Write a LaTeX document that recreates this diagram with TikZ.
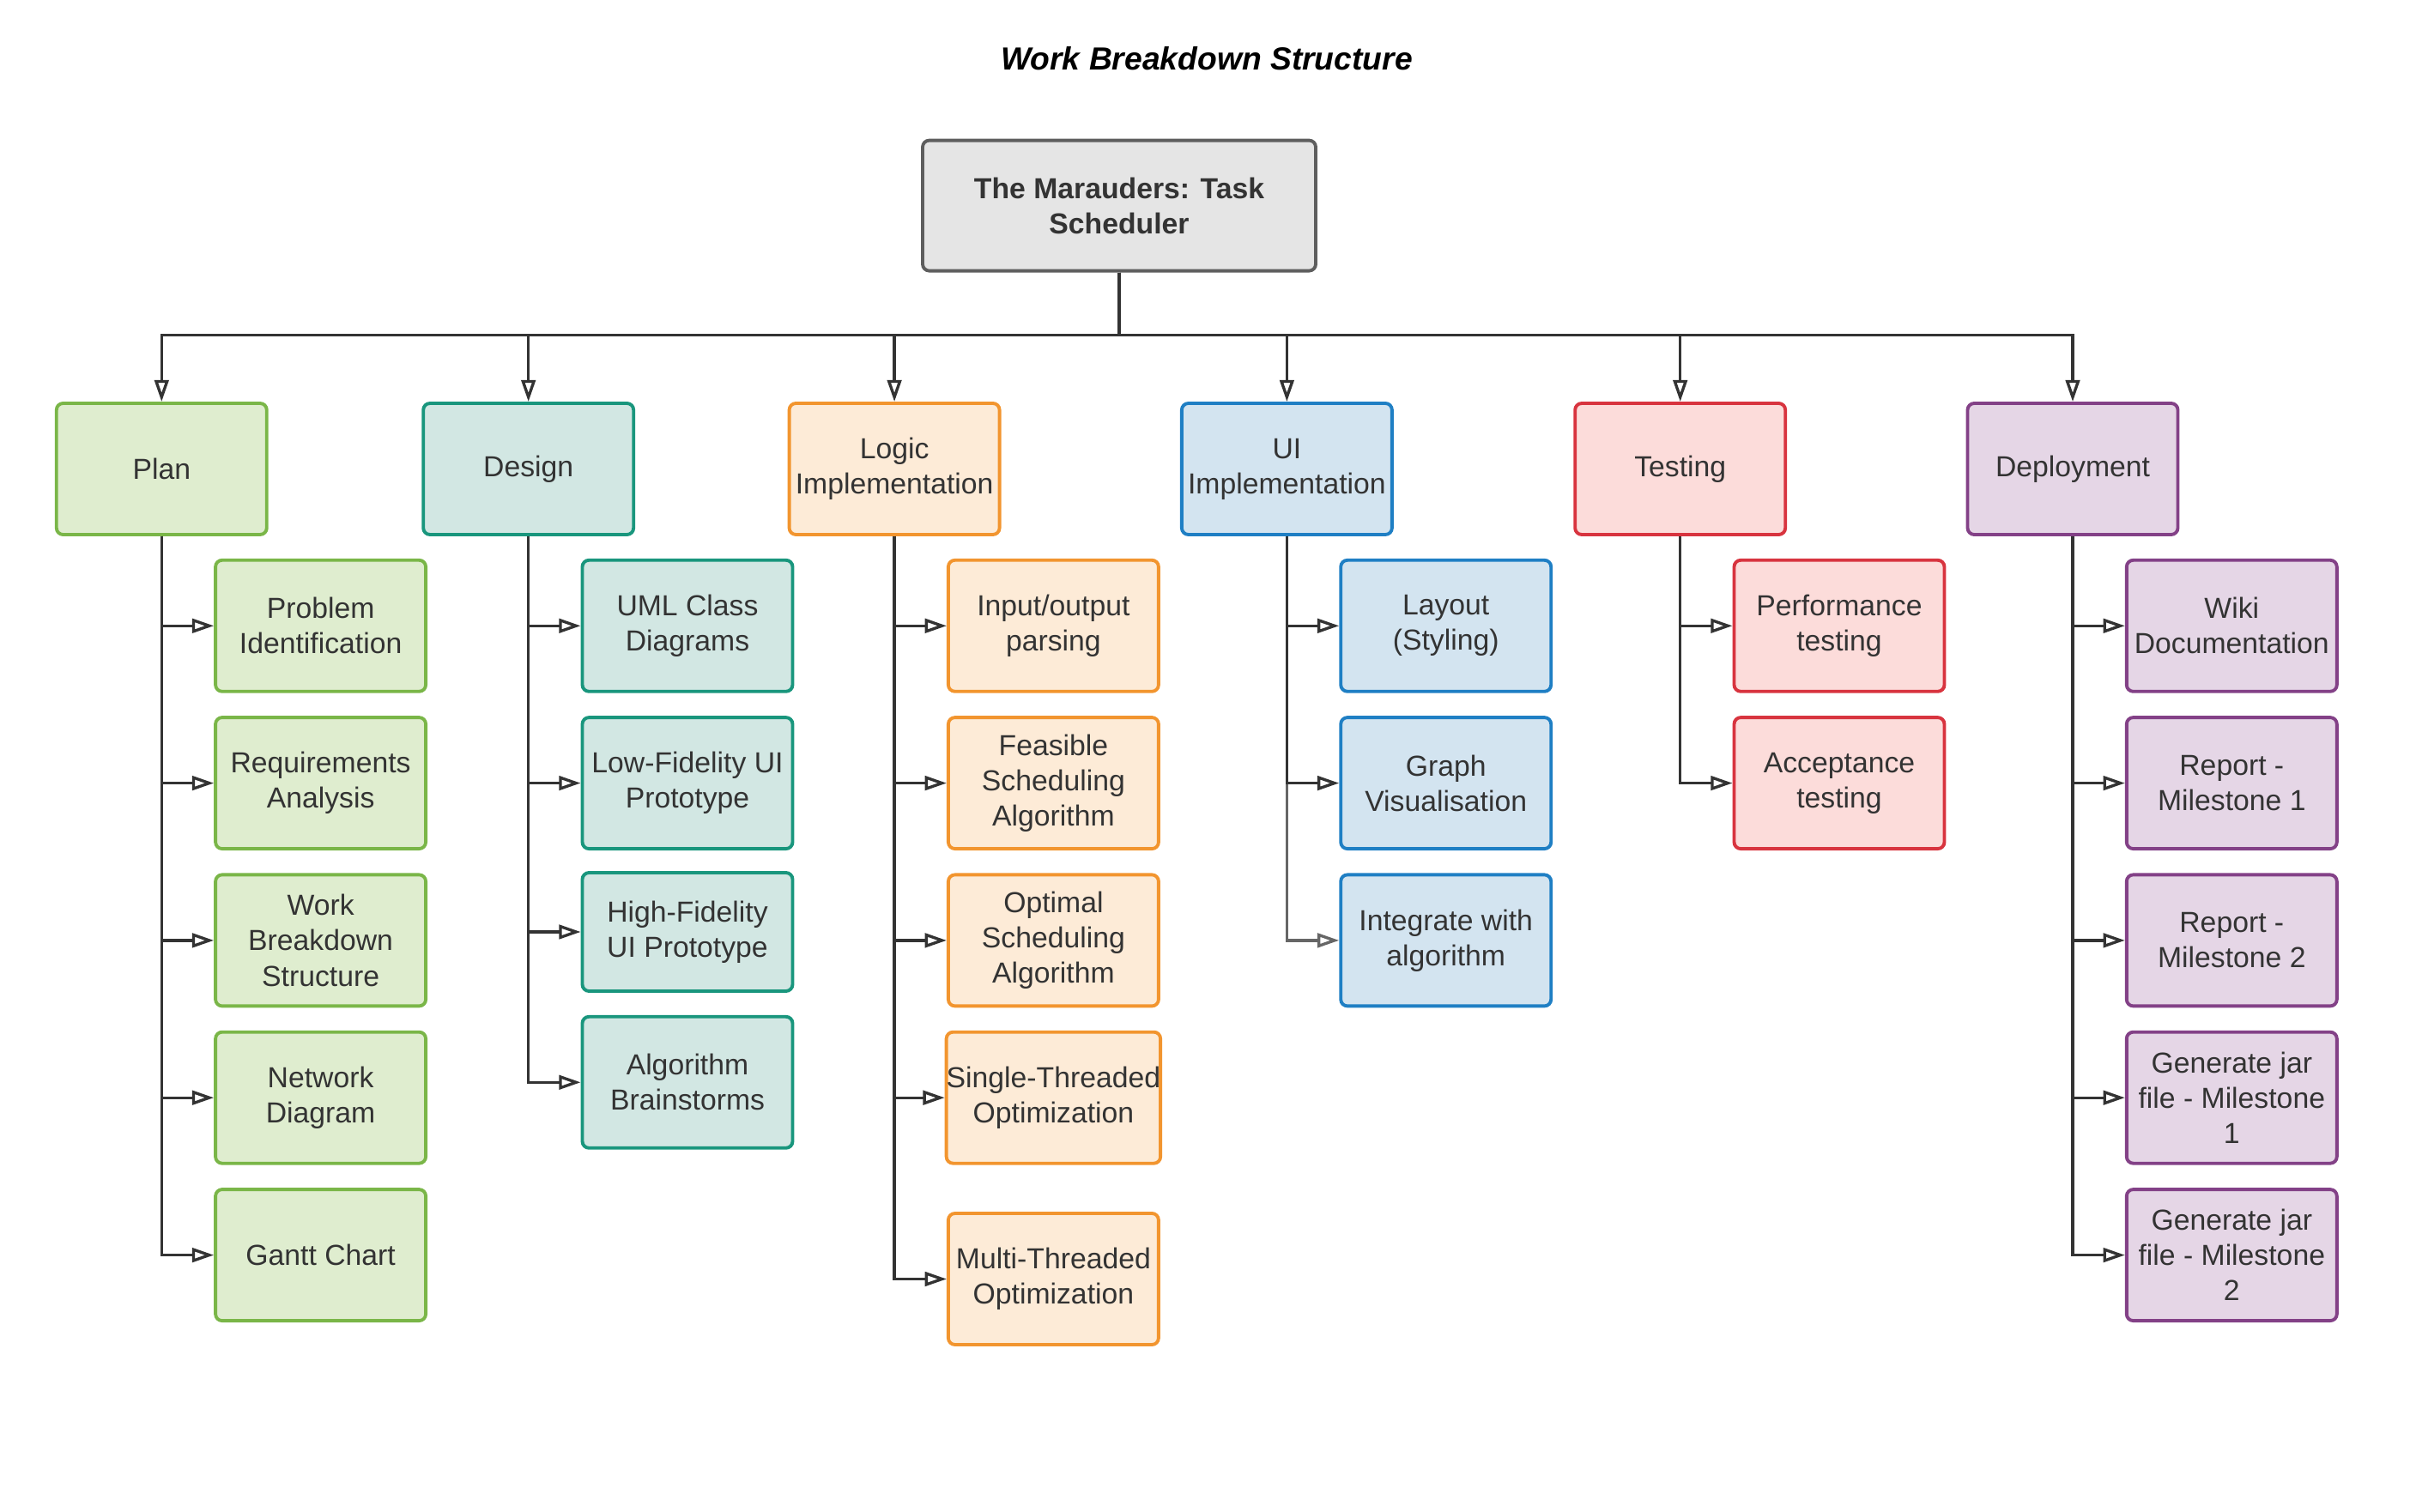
\documentclass[tikz,border=0pt]{standalone}
\usepackage{fontspec}
\setmainfont{Liberation Sans}
\usepackage{xcolor}
\usetikzlibrary{arrows.meta,positioning,calc}

\definecolor{txt}{HTML}{333333}
\definecolor{lnk}{HTML}{333333}
\definecolor{lnklight}{HTML}{666666}
\definecolor{rootfill}{HTML}{E5E5E5}
\definecolor{rootdraw}{HTML}{5E5E5E}
\definecolor{planfill}{HTML}{DFEDCF}
\definecolor{plandraw}{HTML}{7AB648}
\definecolor{designfill}{HTML}{D2E7E3}
\definecolor{designdraw}{HTML}{19967D}
\definecolor{logicfill}{HTML}{FDEBD7}
\definecolor{logicdraw}{HTML}{F2952F}
\definecolor{uifill}{HTML}{D3E4F0}
\definecolor{uidraw}{HTML}{1F7FC4}
\definecolor{testfill}{HTML}{FCDCDA}
\definecolor{testdraw}{HTML}{D8343F}
\definecolor{deployfill}{HTML}{E5D6E6}
\definecolor{deploydraw}{HTML}{834187}

\begin{document}
\begin{tikzpicture}[
    box/.style={rectangle, draw, line width=1.1pt, rounded corners=2.2pt, minimum width=2.45cm, minimum height=1.53cm, align=center, inner sep=0pt, text=txt, font=\fontsize{9.6}{11.7}\selectfont},
    rootbox/.style={box, draw=rootdraw, fill=rootfill, minimum width=4.58cm, minimum height=1.52cm, font=\fontsize{9.6}{11.7}\selectfont\bfseries},
    planbox/.style={box, draw=plandraw, fill=planfill},
    designbox/.style={box, draw=designdraw, fill=designfill},
    logicbox/.style={box, draw=logicdraw, fill=logicfill},
    uibox/.style={box, draw=uidraw, fill=uifill},
    testbox/.style={box, draw=testdraw, fill=testfill},
    deploybox/.style={box, draw=deploydraw, fill=deployfill},
    arrow/.style={-{Triangle[open, length=7.2pt, width=4.7pt]}, line width=0.95pt, draw=lnk}
]
    \useasboundingbox (0,0) rectangle (28.08,-17.62);

    % Title
    \node[font=\fontsize{10.6}{12.5}\selectfont\bfseries\itshape] (title) at (14.06,-0.68) {Work Breakdown Structure};

    % Root
    \node[rootbox] (root) at (13.04,-2.396) {The Marauders: Task\\Scheduler};
    \coordinate (bus) at (13.04,-3.905);

    % Level 1
    \node[planbox] (plan) at (1.883,-5.465) {Plan};
    \node[designbox] (design) at (6.157,-5.465) {Design};
    \node[logicbox] (logic) at (10.421,-5.465) {Logic\\Implementation};
    \node[uibox] (ui) at (14.994,-5.465) {UI\\Implementation};
    \node[testbox] (testing) at (19.577,-5.465) {Testing};
    \node[deploybox] (deploy) at (24.150,-5.465) {Deployment};

    % Plan
    \node[planbox] (plan1) at (3.736,-7.293) {Problem\\Identification};
    \node[planbox] (plan2) at (3.736,-9.126) {Requirements\\Analysis};
    \node[planbox] (plan3) at (3.736,-10.959) {Work\\Breakdown\\Structure};
    \node[planbox] (plan4) at (3.736,-12.792) {Network\\Diagram};
    \node[planbox] (plan5) at (3.736,-14.626) {Gantt Chart};

    % Design
    \node[designbox] (design1) at (8.010,-7.293) {UML Class\\Diagrams};
    \node[designbox] (design2) at (8.010,-9.126) {Low-Fidelity UI\\Prototype};
    \node[designbox, minimum height=1.38cm] (design3) at (8.010,-10.860) {High-Fidelity\\UI Prototype};
    \node[designbox] (design4) at (8.010,-12.613) {Algorithm\\Brainstorms};

    % Logic Implementation
    \node[logicbox] (logic1) at (12.274,-7.293) {Input/output\\parsing};
    \node[logicbox] (logic2) at (12.274,-9.126) {Feasible\\Scheduling\\Algorithm};
    \node[logicbox] (logic3) at (12.274,-10.959) {Optimal\\Scheduling\\Algorithm};
    \node[logicbox] (logic4) at (12.274,-12.792) {Single-Threaded\\Optimization};
    \node[logicbox] (logic5) at (12.274,-14.905) {Multi-Threaded\\Optimization};

    % UI Implementation
    \node[uibox] (ui1) at (16.847,-7.293) {Layout\\(Styling)};
    \node[uibox] (ui2) at (16.847,-9.126) {Graph\\Visualisation};
    \node[uibox] (ui3) at (16.847,-10.959) {Integrate with\\algorithm};

    % Testing
    \node[testbox] (testing1) at (21.430,-7.293) {Performance\\testing};
    \node[testbox] (testing2) at (21.430,-9.126) {Acceptance\\testing};

    % Deployment
    \node[deploybox] (deploy1) at (26.003,-7.293) {Wiki\\Documentation};
    \node[deploybox] (deploy2) at (26.003,-9.126) {Report -\\Milestone 1};
    \node[deploybox] (deploy3) at (26.003,-10.959) {Report -\\Milestone 2};
    \node[deploybox] (deploy4) at (26.003,-12.792) {Generate jar\\file - Milestone\\1};
    \node[deploybox] (deploy5) at (26.003,-14.626) {Generate jar\\file - Milestone\\2};

    % Arrows - root to level 1
    \draw[arrow] (root.south) -- (root.south |- bus) -| (plan.north);
    \draw[arrow] (root.south) -- (root.south |- bus) -| (design.north);
    \draw[arrow] (root.south) -- (root.south |- bus) -| (logic.north);
    \draw[arrow] (root.south) -- (root.south |- bus) -| (ui.north);
    \draw[arrow] (root.south) -- (root.south |- bus) -| (testing.north);
    \draw[arrow] (root.south) -- (root.south |- bus) -| (deploy.north);

    % Arrows - level 1 to tasks
    \draw[arrow] (plan.south) |- (plan1.west);
    \draw[arrow] (plan.south) |- (plan2.west);
    \draw[arrow] (plan.south) |- (plan3.west);
    \draw[arrow] (plan.south) |- (plan4.west);
    \draw[arrow] (plan.south) |- (plan5.west);

    \draw[arrow] (design.south) |- (design1.west);
    \draw[arrow] (design.south) |- (design2.west);
    \draw[arrow] (design.south) |- (design3.west);
    \draw[arrow] (design.south) |- (design4.west);

    \draw[arrow] (logic.south) |- (logic1.west);
    \draw[arrow] (logic.south) |- (logic2.west);
    \draw[arrow] (logic.south) |- (logic3.west);
    \draw[arrow] (logic.south) |- (logic4.west);
    \draw[arrow] (logic.south) |- (logic5.west);

    \draw[arrow, draw=lnklight] (ui.south) |- (ui3.west);
    \draw[arrow] (ui.south) |- (ui1.west);
    \draw[arrow] (ui.south) |- (ui2.west);

    \draw[arrow] (testing.south) |- (testing1.west);
    \draw[arrow] (testing.south) |- (testing2.west);

    \draw[arrow] (deploy.south) |- (deploy1.west);
    \draw[arrow] (deploy.south) |- (deploy2.west);
    \draw[arrow] (deploy.south) |- (deploy3.west);
    \draw[arrow] (deploy.south) |- (deploy4.west);
    \draw[arrow] (deploy.south) |- (deploy5.west);
\end{tikzpicture}
\end{document}
